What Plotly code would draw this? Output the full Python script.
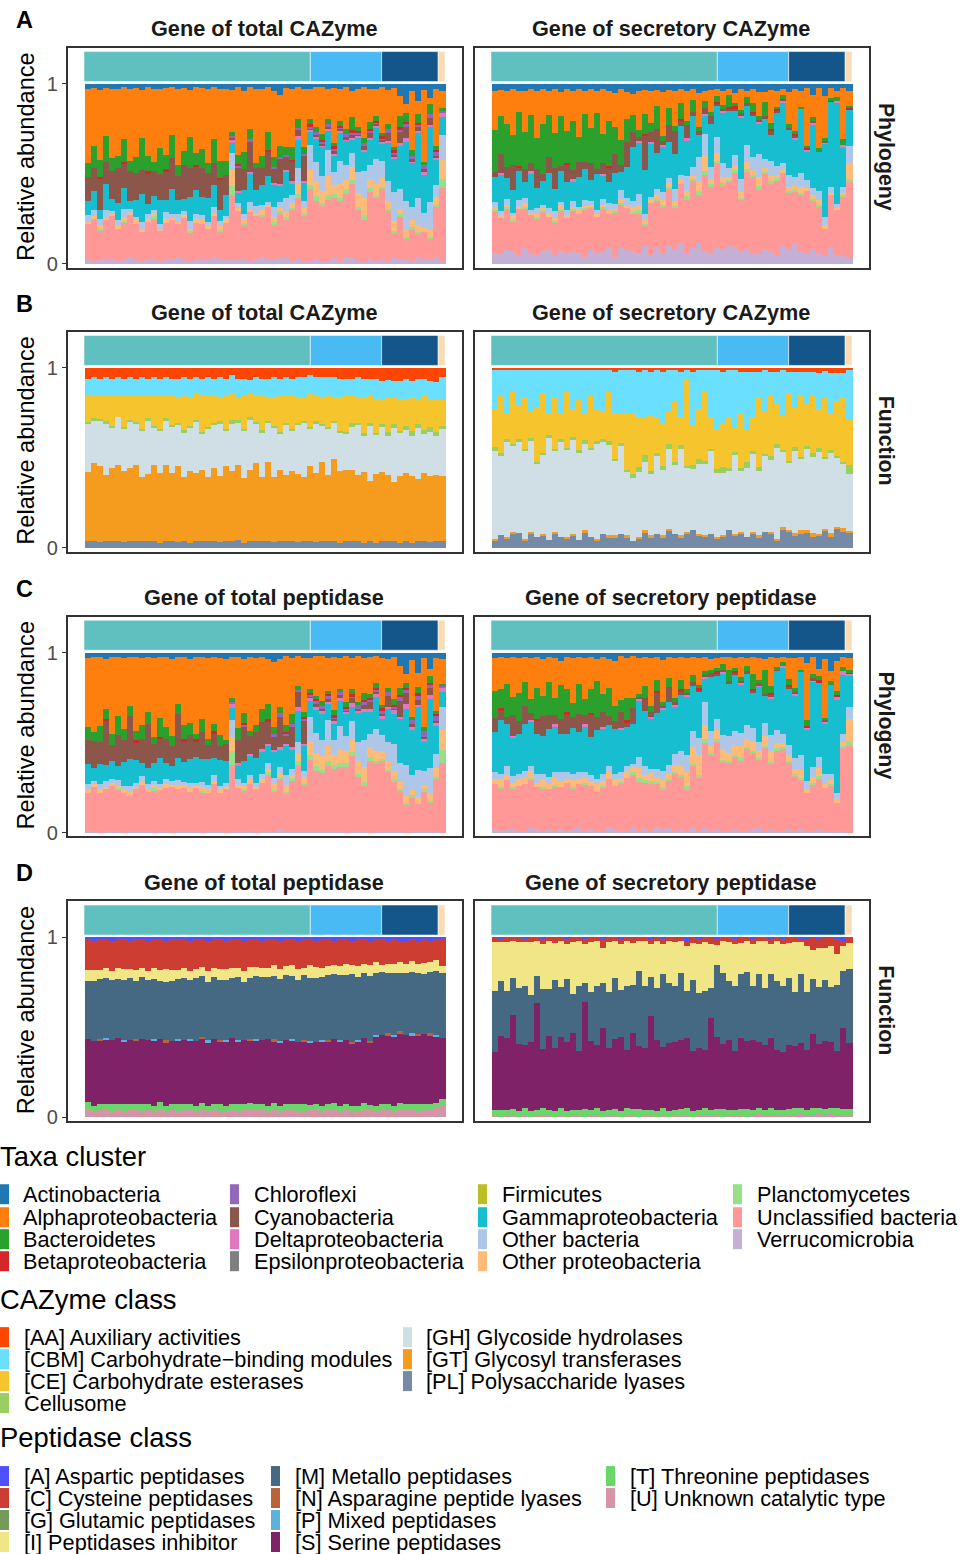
import plotly.graph_objects as go

W, H = 960, 1554
N_COLS = 60

# ---------- legend names and colours ----------
TAXA = ["Actinobacteria", "Alphaproteobacteria", "Bacteroidetes", "Betaproteobacteria",
        "Chloroflexi", "Cyanobacteria", "Deltaproteobacteria", "Epsilonproteobacteria",
        "Firmicutes", "Gammaproteobacteria", "Other bacteria", "Other proteobacteria",
        "Planctomycetes", "Unclassified bacteria", "Verrucomicrobia"]
TAXA_COL = ["#1F77B4", "#FF7F0E", "#2CA02C", "#D62728", "#9467BD", "#8C564B", "#E377C2", "#7F7F7F",
            "#BCBD22", "#17BECF", "#AEC7E8", "#FFBB78", "#98DF8A", "#FF9896", "#C5B0D5"]
CAZ = ["[AA] Auxiliary activities", "[CBM] Carbohydrate\u2212binding modules", "[CE] Carbohydrate esterases",
       "Cellusome", "[GH] Glycoside hydrolases", "[GT] Glycosyl transferases", "[PL] Polysaccharide lyases"]
CAZ_COL = ["#FF4500", "#6BDFFF", "#F6C42D", "#98CF5E", "#D0DEE5", "#F59C1E", "#748AA6"]
PEP = ["[A] Aspartic peptidases", "[C] Cysteine peptidases", "[G] Glutamic peptidases", "[I] Peptidases inhibitor",
       "[M] Metallo peptidases", "[N] Asparagine peptide lyases", "[P] Mixed peptidases", "[S] Serine peptidases",
       "[T] Threonine peptidases", "[U] Unknown catalytic type"]
PEP_COL = ["#5050FF", "#CE3D32", "#749B58", "#F0E685", "#466983", "#BA6338", "#5DB1DD", "#802268", "#6BD76B", "#D595A7"]

GROUP_SIZES = [200, 63, 50, 6]
GROUP_COL = ["#60BFBF", "#4ABAF5", "#14568A", "#FADCB4"]

# ---------- A left: phylogeny, total CAZyme ----------
A1_actino = [3,2,3,2,3,3,2,3,2,3, 2,3,3,2,2,3,2,3,2,2, 3,2,3,3,3,2,4,2,3,3, 2,4,6,3,3,2,3,3,2,2, 3,2,3,2,4,3,2,3,3,2, 3,2,6,9,4,8,3,6,3,3]
A1_alpha = [42,33,38,26,40,36,30,42,38,24, 40,43,32,38,28,41,36,24,40,34, 42,30,40,42,22,40,34,24,43,38, 26,38,28,40,35,18,32,16,24,28, 18,30,20,26,14,22,30,18,16,26, 18,30,10,4,32,6,38,3,34,8]
A1_bacter = [8,12,9,14,8,7,13,6,9,16, 9,5,14,8,13,6,8,16,7,10, 6,14,9,8,2,5,9,6,3,7, 10,6,6,5,8,5,4,3,3,4, 3,2,3,3,7,2,3,4,3,2, 3,2,6,4,3,4,2,4,2,1]
A1_beta = [0,0,1,0,0,0,1,0,0,0, 1,0,0,1,0,0,0,0,1,0, 0,0,1,0,0,1,0,0,0,0, 1,0,0,0,1,0,0,1,0,1, 0,1,1,0,1,1,0,1,1,1, 0,1,1,1,0,1,0,0,1,0]
A1_chloro = [0,0,0,0,0,0,0,0,0,0, 0,0,0,0,0,0,0,0,0,0, 0,0,0,0,1,1,0,1,0,0, 0,1,1,1,0,1,1,1,2,1, 2,1,1,2,1,1,2,1,1,1, 2,1,1,1,2,1,2,2,3,1]
A1_delta = [0,0,0,0,0,0,0,0,0,0, 0,0,0,0,0,0,0,0,0,0, 0,0,0,0,2,1,0,1,0,0, 0,1,1,2,1,2,1,1,1,1, 1,1,1,1,1,1,1,1,1,1, 1,1,1,2,1,1,2,1,1,2]
A1_cyano = [14,13,17,12,16,19,14,17,15,12, 18,15,14,16,18,13,19,15,14,16, 14,13,17,12,1,14,12,18,13,10, 14,8,14,9,12,4,14,1,1,1, 1,2,1,1,2,1,2,3,1,1, 4,1,6,5,1,2,1,3,1,0]
A1_gamma = [8,11,5,14,7,9,12,5,9,14, 6,8,13,7,15,8,7,12,15,10, 14,13,6,12,5,6,13,16,9,11, 15,13,9,17,7,16,10,7,14,18, 12,9,18,15,7,20,12,14,19,10, 20,17,22,26,24,30,20,33,15,8]
A1_otherb = [4,3,3,4,2,3,5,2,2,4, 3,2,3,4,2,4,2,4,3,3, 2,4,3,2,9,3,3,5,4,3, 2,6,3,9,5,9,4,14,12,9, 16,7,14,9,8,12,16,8,15,10, 11,15,10,13,7,13,8,12,7,11]
A1_otherp = [1,2,2,1,1,2,2,1,2,1, 1,2,1,2,1,1,2,1,2,2, 2,1,2,2,8,2,2,1,2,3, 1,3,2,4,3,6,3,8,9,7, 11,5,9,6,7,8,10,5,7,5, 4,5,3,3,4,3,2,3,5,9]
A1_plancto = [0,0,1,0,0,0,1,0,0,0, 0,1,0,0,0,0,0,1,0,0, 0,0,1,0,5,0,1,0,0,1, 0,1,1,2,1,2,1,2,3,2, 3,2,2,3,2,2,3,2,1,1, 1,1,1,1,1,1,0,1,1,4]
A1_unclass = [21,24,16,22,25,18,22,25,20,15, 23,24,17,21,23,18,24,15,22,20, 18,24,16,22,34,28,20,29,25,23, 31,21,25,26,32,36,26,40,35,33, 38,33,37,39,40,30,24,37,38,41, 27,13,22,9,18,11,15,9,30,33]
A1_verruco = [2,1,2,2,3,1,2,4,2,1, 2,3,1,2,3,4,2,1,3,2, 2,4,2,2,2,3,2,1,3,4, 2,2,3,4,1,2,1,1,3,2, 1,3,2,4,3,1,2,3,2,2, 1,3,2,2,1,3,2,2,4,1]

# ---------- A right: phylogeny, secretory CAZyme ----------
A2_actino = [4,3,4,3,4,4,3,4,3,4, 3,5,3,4,3,4,3,4,3,4, 5,3,4,5,4,3,4,3,5,3, 4,3,4,3,5,4,3,3,4,3, 5,3,4,3,4,5,3,4,3,4, 3,4,2,6,2,6,2,4,2,4]
A2_alpha = [22,14,18,25,12,23,15,26,19,13, 24,14,24,16,27,13,22,12,25,16, 20,28,14,10,22,12,18,8,26,10, 20,8,16,6,18,5,12,4,8,3, 5,11,3,8,13,6,18,9,3,16, 24,9,32,12,34,22,6,3,26,8]
A2_bacter = [24,20,24,16,30,21,27,17,28,23, 19,30,18,27,14,27,20,31,16,24, 16,14,12,8,4,10,5,12,3,9, 3,9,2,7,2,4,2,3,2,7, 2,2,3,5,2,9,3,1,2,2, 2,1,1,2,2,1,1,2,3,1]
A2_beta = [0,0,0,0,1,0,0,0,0,0, 0,0,1,0,0,0,0,0,0,1, 0,0,0,0,0,1,0,0,0,0, 0,1,0,0,0,0,0,1,0,1, 1,0,0,1,0,0,1,1,0,0, 1,0,1,0,0,0,1,0,0,1]
A2_delta = [0,1,0,0,0,0,1,0,0,0, 0,0,0,1,0,0,0,0,1,0, 0,0,0,0,1,0,1,0,1,0, 0,0,1,0,0,1,0,0,1,0, 0,1,0,0,1,0,0,0,1,0, 1,0,1,1,0,1,0,1,1,0]
A2_cyano = [3,10,6,14,2,7,5,11,4,9, 12,3,10,5,8,4,10,3,6,8, 11,4,13,7,2,17,6,12,2,9, 13,3,7,2,2,3,4,1,1,1, 1,1,2,1,1,1,2,1,1,1, 1,0,0,1,0,1,0,0,0,0]
A2_gamma = [14,19,12,12,16,9,21,11,13,19, 12,19,16,11,17,18,12,20,13,11, 18,10,16,26,29,22,30,18,27,19, 20,28,19,29,12,10,23,18,29,32, 24,34,21,24,16,25,14,30,33,22, 22,36,16,34,22,38,48,54,20,20]
A2_otherb = [3,2,3,2,4,3,2,3,2,3, 4,2,3,3,2,3,2,2,3,4, 3,5,4,3,6,3,2,3,5,3, 7,3,8,5,13,12,6,9,8,5, 6,7,9,7,12,6,8,5,4,6, 5,8,4,4,5,4,3,2,3,9]
A2_otherp = [1,2,1,2,1,2,1,2,1,2, 1,2,2,1,2,1,1,2,1,2, 1,2,1,2,3,2,1,2,3,2, 3,2,3,2,5,8,3,4,3,2, 2,3,4,3,5,2,3,2,1,2, 2,3,2,2,3,2,1,1,1,9]
A2_plancto = [1,0,1,1,0,1,0,1,1,0, 1,1,0,1,0,1,1,0,1,0, 1,1,0,1,2,1,0,1,1,1, 1,0,2,1,2,2,1,1,2,1, 1,1,1,1,2,1,1,1,0,1, 1,1,0,1,1,0,0,0,1,1]
A2_unclass = [24,19,23,16,26,22,22,20,22,18, 18,24,20,22,22,27,24,20,24,18, 26,24,22,18,22,10,30,24,28,30, 24,34,28,38,26,41,36,48,36,36, 40,28,42,44,34,47,36,42,40,28, 30,32,34,26,26,14,30,24,30,42]
A2_verruco = [6,5,8,7,5,9,6,5,7,8, 5,8,6,7,6,4,8,6,7,9, 4,9,7,6,6,9,5,8,6,10, 8,12,6,9,11,7,5,9,8,10, 9,7,8,6,5,9,7,5,10,7, 12,7,6,8,6,4,9,5,4,3]

# ---------- B left: function, total CAZyme ----------
B1_aa = [6,5,6,5,6,5,6,5,6,5, 6,5,6,5,6,6,5,6,5,6, 5,6,5,6,4,6,6,7,5,6, 6,5,6,5,6,5,5,4,5,5, 5,5,6,6,6,5,6,6,6,7, 7,7,7,6,7,6,6,7,8,5]
B1_cbm = [9,10,9,10,9,10,9,11,9,10, 9,10,9,10,9,10,11,10,9,9, 10,9,11,10,10,10,9,8,10,9, 10,11,9,10,9,11,11,10,10,11, 10,11,10,9,10,11,10,9,11,10, 10,9,10,11,9,11,10,10,10,12]
B1_ce = [15,13,13,15,17,12,17,13,15,19, 13,17,19,13,17,14,19,16,15,21, 18,15,13,18,15,12,19,13,15,20, 13,16,21,15,19,14,13,19,14,15, 18,13,19,21,15,14,20,15,19,14, 19,15,18,15,19,14,19,15,18,15]
B1_cell = [1,1,1,1,1,0,1,1,1,1, 1,1,1,1,1,1,1,1,1,1, 1,1,1,1,2,1,1,1,1,1, 1,1,1,1,1,1,1,1,2,1, 1,1,1,1,2,1,2,2,1,1, 2,2,1,2,3,2,2,3,2,2]
B1_gh = [27,24,25,29,22,27,23,26,23,26, 30,21,24,25,26,23,25,24,29,20, 27,24,29,20,26,23,26,29,22,25, 22,27,20,28,22,27,30,21,27,20, 26,20,21,20,24,28,20,30,22,25, 22,30,24,24,22,28,22,24,22,26]
B1_gt = [38,43,42,37,40,42,39,41,42,36, 37,42,39,42,38,42,36,40,38,40, 36,40,36,42,39,40,36,40,43,36, 43,36,40,36,39,37,35,42,38,44, 37,45,40,40,40,36,39,33,38,38, 37,32,37,37,37,34,38,36,37,36]
B1_pl = [4,4,3,4,4,4,3,4,4,4, 4,4,3,4,4,3,4,3,4,4, 4,4,3,4,4,4,3,4,4,4, 4,3,4,4,4,3,4,4,3,4, 4,4,3,4,4,4,3,4,3,4, 4,4,3,4,3,4,4,3,4,4]

# ---------- B right: function, secretory CAZyme ----------
B2_aa = [1,1,1,1,1,1,1,1,1,1, 1,1,1,1,1,1,1,1,1,1, 2,1,1,1,2,1,2,1,2,1, 1,2,1,2,1,1,1,1,2,1, 1,2,2,2,2,1,2,2,1,2, 2,2,2,2,3,2,3,3,3,1]
B2_cbm = [22,14,24,12,20,15,24,21,13,23, 16,24,12,22,16,25,14,22,23,12, 23,25,24,24,25,27,24,26,29,24, 18,25,6,30,22,12,26,32,28,27, 32,24,32,26,14,24,13,18,26,12, 19,14,18,13,20,15,22,16,13,29]
B2_ce = [20,33,14,30,18,28,15,30,34,12, 29,14,30,16,27,15,28,17,16,28, 26,16,32,33,28,22,31,20,24,18, 34,16,48,22,28,38,18,22,24,29, 14,30,18,19,39,24,34,22,20,38, 22,34,24,32,22,34,20,32,36,26]
B2_cell = [2,1,2,1,2,1,2,1,1,2, 1,2,1,2,1,2,1,1,1,2, 1,2,1,2,3,4,2,2,2,3, 1,2,1,2,3,2,1,2,3,2, 2,2,3,2,2,1,2,2,1,1, 2,1,2,2,2,1,2,1,1,5]
B2_gh = [48,45,52,49,50,48,52,41,45,55, 46,52,47,53,47,49,47,52,52,51, 42,49,36,34,36,39,34,43,37,45, 39,48,36,34,39,39,46,35,34,34, 44,34,38,44,36,44,40,50,43,38, 45,40,46,42,46,40,44,40,36,33]
B2_gt = [1,0,1,1,0,1,1,0,1,0, 1,0,1,1,0,1,0,1,0,1, 1,0,1,0,1,1,1,0,1,1, 0,1,1,0,1,1,0,1,1,0, 1,1,0,1,1,0,1,1,2,1, 1,2,1,2,1,1,2,1,2,1]
B2_pl = [4,7,5,8,8,4,8,6,7,4, 8,6,5,7,4,9,6,4,8,6, 6,8,6,4,5,9,6,8,6,10, 8,6,8,10,7,6,8,5,6,10, 7,8,6,8,6,9,8,4,10,9, 7,8,9,6,7,10,6,11,9,9]

# ---------- C left: phylogeny, total peptidase ----------
C1_actino = [3,2,2,3,2,2,3,2,2,3, 2,3,2,2,3,2,2,3,2,2, 3,2,3,3,2,2,3,2,3,2, 3,5,3,2,3,2,3,3,2,2, 3,2,3,2,3,2,3,2,2,3, 3,2,6,9,4,9,3,7,3,3]
C1_alpha = [38,42,38,24,43,30,39,24,42,36, 27,44,34,39,42,24,39,35,43,34, 44,35,42,44,20,40,28,42,36,28, 24,38,26,40,34,17,30,18,24,28, 20,30,18,28,17,26,20,21,16,28, 16,24,10,4,30,6,38,3,30,12]
C1_bacter = [7,5,9,5,6,10,6,5,5,8, 6,4,10,7,5,5,8,6,3,7, 3,4,6,2,2,7,5,3,4,7, 8,4,3,4,6,2,3,2,2,3, 2,3,2,3,3,2,4,2,3,2, 2,3,3,2,2,3,2,3,2,1]
C1_beta = [0,0,0,1,0,0,0,0,1,0, 0,0,1,0,0,0,1,0,1,0, 0,1,0,0,0,0,1,0,0,0, 1,0,0,1,0,0,1,1,1,0, 1,1,0,1,1,0,1,1,1,1, 0,1,1,1,0,1,0,1,1,0]
C1_chloro = [0,0,0,0,0,0,0,0,0,0, 0,0,0,0,0,0,0,0,0,0, 0,0,0,0,1,0,1,0,0,0, 0,1,2,1,2,1,1,1,2,2, 2,1,2,1,1,2,2,1,1,2, 2,1,2,1,2,2,3,1,3,1]
C1_delta = [0,0,0,0,0,0,0,0,0,0, 0,0,0,0,0,0,0,0,0,0, 0,0,0,0,2,1,0,1,0,1, 1,1,2,1,2,2,1,2,2,2, 1,2,2,1,2,1,2,2,2,2, 1,2,1,2,2,1,2,2,2,2]
C1_cyano = [13,15,12,21,9,16,12,21,10,13, 22,11,11,13,11,22,12,13,9,15, 8,13,8,9,0,13,18,10,14,15, 12,8,16,5,12,9,13,1,2,1, 2,1,1,1,3,1,2,4,1,1, 6,1,7,5,1,2,1,3,1,0]
C1_gamma = [11,7,11,8,10,7,13,13,13,7, 8,10,14,9,8,11,11,13,14,12, 14,9,14,12,6,8,11,11,14,12, 9,15,9,17,11,18,14,9,14,16, 10,9,15,14,8,17,16,12,19,10, 18,17,20,24,24,28,16,30,16,7]
C1_otherb = [3,2,3,3,2,3,2,3,2,3, 3,2,2,3,2,3,2,3,2,3, 2,3,2,2,8,3,2,3,2,3, 3,4,3,6,4,6,4,14,12,10, 15,8,14,9,10,11,15,7,13,9, 11,15,9,13,8,12,8,11,8,11]
C1_otherp = [2,1,2,1,2,1,2,2,1,2, 1,2,1,2,1,2,1,2,1,2, 2,1,2,1,7,2,1,2,1,2, 2,3,2,4,2,5,3,8,8,9, 10,6,8,7,7,7,9,6,6,5, 4,5,3,3,3,3,2,3,5,10]
C1_plancto = [0,0,0,0,0,1,0,0,0,0, 0,1,0,0,0,0,0,0,0,1, 0,0,0,0,7,0,1,0,0,0, 1,1,1,1,1,2,1,3,3,2, 3,2,2,3,2,2,2,2,1,1, 1,1,1,1,1,0,1,1,1,6]
C1_unclass = [21,25,22,20,25,21,22,17,24,25, 19,24,23,24,25,21,25,21,24,22, 21,25,21,24,32,24,21,27,24,26, 30,23,27,22,31,38,26,41,37,36, 40,35,38,40,42,31,26,40,41,42, 32,28,18,12,18,12,22,12,30,34]
C1_verruco = [1,1,0,1,1,1,0,1,1,1, 1,0,1,1,0,1,1,1,1,0, 1,1,1,0,1,1,1,1,0,1, 1,1,2,1,1,1,1,1,1,1, 1,1,1,0,1,1,1,0,1,1, 1,1,1,0,1,1,1,1,1,0]

# ---------- C right: phylogeny, secretory peptidase ----------
C2_actino = [3,2,3,2,3,2,3,2,3,2, 3,4,2,3,2,3,2,3,2,3, 4,2,3,2,3,2,3,2,4,2, 3,2,3,2,3,2,3,3,2,2, 3,2,3,2,3,3,2,3,2,3, 3,2,5,2,8,3,9,4,2,3]
C2_alpha = [18,17,14,22,19,14,23,17,20,14, 22,13,18,24,15,23,18,12,21,16, 24,25,22,24,20,16,27,13,23,12, 22,13,18,10,15,8,6,5,4,7, 5,11,4,10,12,6,16,5,3,12, 16,7,30,9,4,30,5,14,5,7]
C2_bacter = [15,10,18,10,16,13,8,17,11,18, 10,18,13,8,17,9,13,19,10,15, 8,7,12,6,2,7,3,6,2,5, 2,5,2,4,2,2,2,2,3,6, 2,2,3,8,2,13,4,1,2,3, 2,1,3,2,2,1,2,2,2,1]
C2_beta = [0,1,0,0,0,0,0,1,0,0, 0,0,1,0,0,0,1,0,0,0, 0,0,1,0,0,0,0,1,0,0, 0,1,0,0,1,0,0,1,0,0, 1,0,0,1,0,0,1,0,0,1, 0,0,1,0,1,0,0,1,0,1]
C2_delta = [0,0,0,1,0,0,1,0,0,0, 1,0,0,0,0,1,0,0,1,0, 0,1,0,0,1,0,1,0,1,0, 1,0,1,0,0,1,0,0,1,0, 0,1,0,0,1,0,1,0,1,0, 1,0,1,1,0,1,0,1,2,1]
C2_cyano = [8,5,4,11,7,10,4,7,11,8, 5,8,11,6,10,5,12,7,8,5, 4,9,3,9,1,7,3,11,1,8, 2,2,1,2,1,1,2,1,1,1, 1,1,1,1,1,1,1,1,0,1, 1,0,0,1,0,1,0,0,0,0]
C2_gamma = [22,28,23,21,22,26,25,22,20,26, 26,20,21,25,22,26,21,26,25,22, 24,24,21,23,32,30,28,31,34,35, 26,31,34,25,26,13,29,24,33,28, 31,26,28,20,31,15,20,33,36,32, 34,44,27,44,38,26,44,44,30,18]
C2_otherb = [4,3,5,4,3,4,3,5,3,4, 3,5,4,3,4,3,4,3,4,3, 3,4,3,2,6,5,3,5,5,5, 6,8,10,9,10,13,8,6,7,9, 8,7,8,8,5,7,9,7,5,6, 6,8,4,5,6,5,3,3,4,7]
C2_otherp = [3,4,3,2,4,3,4,2,4,3, 4,3,2,4,3,3,2,4,3,4, 3,2,4,3,6,3,4,2,4,3, 4,5,8,9,11,8,4,5,6,4, 5,6,4,5,4,5,6,3,2,3, 3,4,2,3,4,2,2,2,2,13]
C2_plancto = [0,1,0,1,0,0,1,0,1,0, 1,0,0,1,0,1,0,0,1,0, 0,1,0,1,2,1,1,1,1,1, 1,1,2,1,2,2,1,1,1,1, 1,2,1,1,1,1,1,1,1,1, 1,1,0,1,1,0,1,0,1,3]
C2_unclass = [25,22,27,22,25,26,27,23,23,22, 25,22,27,22,24,26,24,21,24,26, 23,27,29,31,28,26,27,24,22,26, 32,29,24,34,30,47,41,48,37,36, 40,38,45,43,38,45,36,45,45,38, 30,26,20,24,26,22,22,13,42,50]
C2_verruco = [2,1,2,2,1,1,3,2,1,2, 1,2,1,2,3,1,2,1,1,3, 2,1,1,3,1,2,1,3,2,3, 1,2,1,3,1,3,1,2,1,1, 2,1,1,2,3,1,2,1,1,2, 1,2,1,1,2,1,1,1,1,0]

# ---------- D left: function, total peptidase ----------
D1_a = [1,2,1,1,2,1,1,2,1,1, 2,1,1,2,1,1,1,2,1,1, 2,1,1,2,1,1,2,1,1,2, 1,1,2,1,1,2,1,1,2,1, 1,2,1,1,2,1,1,2,1,1, 2,1,2,2,1,2,1,2,1,1]
D1_c = [17,16,17,16,17,16,17,16,17,16, 17,16,17,16,17,17,16,17,16,16, 17,16,17,16,16,16,17,16,16,15, 16,15,16,15,15,16,16,15,15,16, 15,14,15,14,14,15,14,14,13,14, 13,14,12,13,12,13,13,12,12,15]
D1_i = [6,6,5,6,5,6,6,5,6,5, 5,6,6,7,6,5,6,5,5,5, 6,5,6,6,6,5,6,6,5,5, 5,6,6,5,6,6,4,7,6,5, 5,5,5,6,5,6,5,6,6,4, 5,5,6,5,6,5,6,5,6,4]
D1_m = [32,33,33,33,33,32,33,34,32,34, 33,33,32,33,33,33,34,33,34,34, 33,34,33,33,33,35,33,34,35,35, 34,36,35,36,35,35,36,36,36,35, 36,37,36,36,38,35,36,37,34,34, 33,34,33,34,34,34,33,34,36,36]
D1_n = [0,0,1,0,0,0,0,0,1,0, 0,0,0,1,0,0,0,0,0,1, 0,0,1,0,0,0,0,1,0,0, 0,1,0,0,0,0,1,0,0,0, 1,0,0,0,1,0,0,1,0,0, 1,0,1,0,0,1,0,1,0,0]
D1_p = [0,0,0,1,0,0,1,0,0,0, 0,1,0,0,0,1,0,1,0,0, 1,0,0,1,0,1,0,0,1,0, 0,0,1,0,1,0,0,1,0,1, 0,0,1,0,0,1,0,0,1,0, 0,1,0,0,1,0,0,0,1,0]
D1_s = [35,36,35,36,36,36,35,36,35,36, 36,36,35,36,35,35,36,36,35,36, 36,36,35,36,37,35,36,35,36,36, 37,35,36,36,36,35,35,35,35,36, 35,36,36,36,35,36,36,35,38,37, 38,38,39,38,38,38,38,38,37,34]
D1_t = [4,3,3,3,4,3,4,3,3,4, 3,3,4,3,3,4,3,3,3,4, 3,3,4,3,3,4,3,4,3,3, 3,4,3,3,3,4,4,3,3,3, 3,4,3,3,3,3,4,3,3,3, 3,3,4,3,3,4,3,3,3,4]
D1_u = [4,3,4,4,3,4,3,4,4,3, 4,3,4,3,4,3,4,4,3,4, 3,4,3,3,4,3,4,4,4,4, 3,4,3,4,4,3,3,4,4,3, 4,4,3,4,3,3,4,4,3,4, 4,3,4,4,4,3,4,4,5,6]

# ---------- D right: function, secretory peptidase ----------
D2_a = [0,1,0,0,0,1,0,0,1,0, 0,0,1,0,0,1,0,0,1,0, 0,1,0,0,0,0,1,0,1,0, 0,0,2,0,1,0,0,1,0,0, 1,0,0,1,0,0,1,0,1,0, 0,1,1,0,1,0,0,1,2,0]
D2_c = [3,2,3,2,3,2,3,2,3,2, 3,2,3,3,2,3,3,2,5,3, 2,3,2,3,2,2,3,2,3,2, 3,2,3,3,3,3,4,3,2,3, 3,3,2,3,2,2,3,2,3,3, 3,2,4,7,5,6,5,8,3,3]
D2_i = [27,21,27,20,25,24,29,19,25,27, 20,26,19,29,25,21,27,25,19,27, 20,25,25,21,16,25,18,26,16,23, 24,17,25,20,27,27,24,11,17,21, 23,17,17,23,18,26,16,22,23,19, 27,17,25,16,22,17,22,17,13,14]
D2_m = [34,30,26,20,31,33,26,15,34,26, 36,28,34,22,36,10,27,33,24,31, 33,26,36,24,40,34,22,28,40,33, 31,36,26,38,30,33,16,38,38,32, 36,34,37,30,36,31,35,38,37,36, 30,38,32,30,32,33,30,36,30,40]
D2_s = [32,40,40,51,37,35,38,58,33,41, 34,40,38,43,32,58,38,35,45,34, 38,41,32,38,34,34,52,39,33,37, 37,37,39,32,34,32,50,38,35,38, 32,38,37,39,35,35,38,33,32,35, 34,35,33,40,36,37,36,31,43,36]
D2_t = [3,4,3,3,3,4,3,3,4,3, 3,4,3,3,3,4,3,4,3,3, 3,3,4,3,4,3,3,3,4,3, 3,3,4,3,3,4,3,3,4,3, 3,3,4,3,3,3,4,3,3,3, 4,3,3,4,3,3,3,4,3,3]
D2_u = [1,0,1,1,0,1,0,1,1,1, 0,1,0,1,1,0,1,1,0,1, 1,0,1,1,0,1,1,0,1,0, 1,1,1,0,1,1,1,1,0,1, 1,1,0,1,2,1,1,1,1,1, 1,2,1,1,2,1,2,1,1,1]

PANELS = [
    ("Gene of total CAZyme", TAXA_COL, [(0,A1_actino),(1,A1_alpha),(2,A1_bacter),(3,A1_beta),(4,A1_chloro),(5,A1_cyano),(6,A1_delta),(9,A1_gamma),(10,A1_otherb),(11,A1_otherp),(12,A1_plancto),(13,A1_unclass),(14,A1_verruco)]),
    ("Gene of secretory CAZyme", TAXA_COL, [(0,A2_actino),(1,A2_alpha),(2,A2_bacter),(3,A2_beta),(5,A2_cyano),(6,A2_delta),(9,A2_gamma),(10,A2_otherb),(11,A2_otherp),(12,A2_plancto),(13,A2_unclass),(14,A2_verruco)]),
    ("Gene of total CAZyme", CAZ_COL, [(0,B1_aa),(1,B1_cbm),(2,B1_ce),(3,B1_cell),(4,B1_gh),(5,B1_gt),(6,B1_pl)]),
    ("Gene of secretory CAZyme", CAZ_COL, [(0,B2_aa),(1,B2_cbm),(2,B2_ce),(3,B2_cell),(4,B2_gh),(5,B2_gt),(6,B2_pl)]),
    ("Gene of total peptidase", TAXA_COL, [(0,C1_actino),(1,C1_alpha),(2,C1_bacter),(3,C1_beta),(4,C1_chloro),(5,C1_cyano),(6,C1_delta),(9,C1_gamma),(10,C1_otherb),(11,C1_otherp),(12,C1_plancto),(13,C1_unclass),(14,C1_verruco)]),
    ("Gene of secretory peptidase", TAXA_COL, [(0,C2_actino),(1,C2_alpha),(2,C2_bacter),(3,C2_beta),(5,C2_cyano),(6,C2_delta),(9,C2_gamma),(10,C2_otherb),(11,C2_otherp),(12,C2_plancto),(13,C2_unclass),(14,C2_verruco)]),
    ("Gene of total peptidase", PEP_COL, [(0,D1_a),(1,D1_c),(3,D1_i),(4,D1_m),(5,D1_n),(6,D1_p),(7,D1_s),(8,D1_t),(9,D1_u)]),
    ("Gene of secretory peptidase", PEP_COL, [(0,D2_a),(1,D2_c),(3,D2_i),(4,D2_m),(7,D2_s),(8,D2_t),(9,D2_u)]),
]
CLASS_NAMES = {id(TAXA_COL): TAXA, id(CAZ_COL): CAZ, id(PEP_COL): PEP}

ROW_TOPS = [48, 332, 617, 902]
ROW_H = 220
COL_LEFTS = [67.5, 474.5]
COL_W = 394
BARS_L, BARS_W = 16.5, 361
STRIPS = ["Phylogeny", "Function", "Phylogeny", "Function"]
LETTERS = ["A", "B", "C", "D"]
FONT = "Liberation Sans"

# The rendered page is about 6 px shorter than the window, so vertical positions use this height.
H_EFF = 1548

px = lambda x: x / W
py = lambda y: 1 - y / H_EFF

fig = go.Figure()
layout = dict(
    width=W, height=H, autosize=False, margin=dict(l=0, r=0, t=0, b=0),
    paper_bgcolor="white", plot_bgcolor="white", showlegend=False,
    barmode="stack", barnorm="fraction", bargap=0, font=dict(family=FONT),
)
shapes, annots = [], []

def text(x, y, s, size, color="#000000", bold=False, xanchor="left", angle=0):
    annots.append(dict(x=px(x), y=py(y), xref="paper", yref="paper", text=f"<b>{s}</b>" if bold else s,
                       showarrow=False, xanchor=xanchor, yanchor="middle", textangle=angle,
                       font=dict(family=FONT, size=size, color=color), borderpad=0, borderwidth=0))

unit = BARS_W / N_COLS
for i, (title, cols, series) in enumerate(PANELS):
    r, c = i // 2, i % 2
    top, left = ROW_TOPS[r], COL_LEFTS[c]
    ax = "" if i == 0 else str(i + 1)
    for idx, vals in reversed(series):
        fig.add_trace(go.Bar(x=list(range(len(vals))), y=vals, name=CLASS_NAMES[id(cols)][idx],
                             marker=dict(color=cols[idx], line=dict(width=0)), xaxis="x" + ax, yaxis="y" + ax))
    layout["xaxis" + ax] = dict(domain=[px(left), px(left + COL_W)], anchor="y" + ax,
                                range=[-0.5 - BARS_L / unit, N_COLS - 0.5 + (COL_W - BARS_L - BARS_W) / unit],
                                showticklabels=False, ticks="", showgrid=False, zeroline=False,
                                showline=True, mirror=True, linecolor="#333333", linewidth=1.5)
    layout["yaxis" + ax] = dict(domain=[py(top + ROW_H), py(top)], anchor="x" + ax,
                                range=[-0.022, 1.2], tickvals=[0, 1], ticktext=["0", "1"] if c == 0 else ["", ""],
                                ticks="outside" if c == 0 else "", ticklen=4, tickwidth=1.2, tickcolor="#333333",
                                tickfont=dict(family=FONT, size=20, color="#4D4D4D"),
                                showgrid=False, zeroline=False, showline=True, mirror=True,
                                linecolor="#333333", linewidth=1.5)
    total = sum(GROUP_SIZES)
    pos = 0
    for size, col in zip(GROUP_SIZES, GROUP_COL):
        x0 = -0.5 + pos / total * N_COLS
        x1 = -0.5 + (pos + size) / total * N_COLS
        shapes.append(dict(type="rect", xref="x" + ax, yref="y" + ax, x0=x0, x1=x1, y0=1.013, y1=1.18,
                           fillcolor=col, line=dict(color="rgba(255,255,255,0.55)", width=1)))
        pos += size
    text(left + COL_W / 2 - 0.5, top - 19, title, 21.7, "#1A1A1A", True, "center")
    if c == 0:
        text(26, top + 109, "Relative abundance", 23.6, "#000000", False, "center", -90)
        text(24, top - 28, LETTERS[r], 23.5, "#000000", True, "center")
    else:
        text(886, top + 109, STRIPS[r], 21.3, "#1A1A1A", True, "center", 90)

def legend(title, title_y, names, colors, col_keys, col_texts, rows_y, per_col, size=21.7, key_w=9):
    text(0, title_y, title, 27.4)
    for j, (n, colr) in enumerate(zip(names, colors)):
        cc = j // per_col
        rr = j % per_col
        y = rows_y[rr]
        shapes.append(dict(type="rect", xref="paper", yref="paper", x0=px(col_keys[cc]), x1=px(col_keys[cc] + key_w),
                           y0=py(y + 10), y1=py(y - 10), fillcolor=colr, line=dict(width=0)))
        text(col_texts[cc], y, n, size)

legend("Taxa cluster", 1157, TAXA, TAXA_COL, [0, 230, 478, 733], [23, 254, 502, 757], [1195, 1218, 1240, 1262], 4)
legend("CAZyme class", 1300, CAZ, CAZ_COL, [0, 403], [24, 426], [1338, 1360, 1382, 1404], 4)
legend("Peptidase class", 1438, PEP, PEP_COL, [0, 271, 606], [24, 295, 630], [1477, 1499, 1521, 1543], 4)

layout["shapes"] = shapes
layout["annotations"] = annots
fig.update_layout(**layout)
fig.write_html("out.html", config={"displayModeBar": False},
               post_script="document.body.style.margin='0';document.body.style.padding='0';")
